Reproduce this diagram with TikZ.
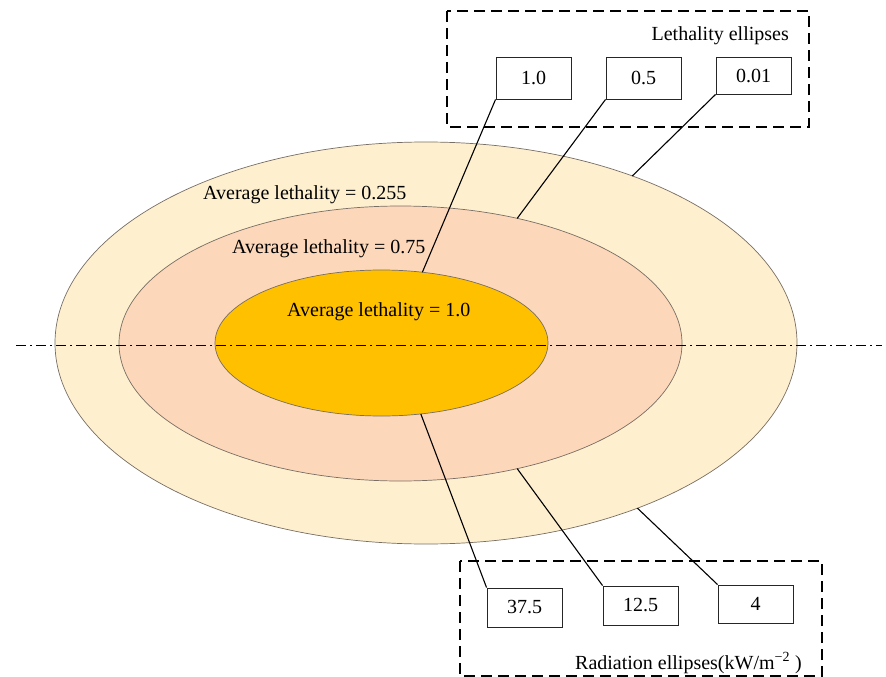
\documentclass[tikz,border=0pt]{standalone}
\usepackage{fontspec}
\setmainfont{Liberation Serif}
\usetikzlibrary{shapes.geometric}
\definecolor{zoneOuter}{RGB}{254,240,207}
\definecolor{zoneMid}{RGB}{253,215,185}
\definecolor{zoneCore}{RGB}{255,192,0}
\definecolor{rimGray}{RGB}{120,110,100}
\begin{document}
\begin{tikzpicture}[x=1pt,y=-1pt,
  zone/.style={ellipse,draw=rimGray,line width=0.7pt,inner sep=0pt,outer sep=0pt},
  valbox/.style={draw=black!85,line width=0.9pt,minimum width=75pt,inner sep=0pt,
    font=\fontsize{20}{24}\selectfont},
  groupbox/.style={draw=black,line width=1.8pt,dash pattern=on 11pt off 6pt},
  leader/.style={draw=black,line width=1.1pt},
  zonelabel/.style={anchor=base west,inner sep=0pt,font=\fontsize{20}{24}\selectfont}]
\useasboundingbox (0,0) rectangle (886,677);

% nested zones
\node[zone,fill=zoneOuter,minimum width=742pt,minimum height=402pt] (outer) at (426,343) {};
\node[zone,fill=zoneMid,minimum width=563pt,minimum height=275pt] (mid) at (400.5,343.5) {};
\node[zone,fill=zoneCore,minimum width=333pt,minimum height=146pt] (core) at (381.5,343) {};

% axis
\coordinate (axL) at (16,345);
\coordinate (axR) at (882,345);
\draw[line width=1pt,dash pattern=on 10pt off 4pt on 2pt off 4pt] (axL) -- (axR);

% zone labels
\node[zonelabel] (lab255) at (203,199) {Average lethality = 0.255};
\node[zonelabel] (lab75) at (232,253) {Average lethality = 0.75};
\node[zonelabel] (lab10) at (287,316) {Average lethality = 1.0};

% lethality group
\draw[groupbox] (447,11) rectangle (809,127);
\node[anchor=base east,inner sep=0pt,font=\fontsize{20}{24}\selectfont] (lethTitle) at (789,41) {Lethality ellipses};
\node[valbox,minimum height=42pt] (l10) at (533.5,78) {1.0};
\node[valbox,minimum height=42pt] (l05) at (643.5,78) {0.5};
\node[valbox,minimum height=37pt] (l001) at (753.5,75.5) {0.01};

% radiation group
\draw[groupbox] (460,561) rectangle (822,676);
\node[anchor=base west,inner sep=0pt,font=\fontsize{20}{24}\selectfont] (radTitle) at (575,669) {Radiation ellipses(kW/m\textsuperscript{−2} )};
\node[valbox,minimum height=39pt] (r375) at (524.5,607.5) {37.5};
\node[valbox,minimum height=39pt] (r125) at (640.5,605.5) {12.5};
\node[valbox,minimum height=38pt] (r4) at (755.5,604) {4};

% leaders
\draw[leader] (l10.south west) -- (core.60.3);
\draw[leader] (l05.south west) -- (mid.47.4);
\draw[leader] (l001.south west) -- (outer.39);
\draw[leader] (r375.north west) -- (core.-61.5);
\draw[leader] (r125.north west) -- (mid.-47.4);
\draw[leader] (r4.north west) -- (outer.-38.3);
\end{tikzpicture}
\end{document}
